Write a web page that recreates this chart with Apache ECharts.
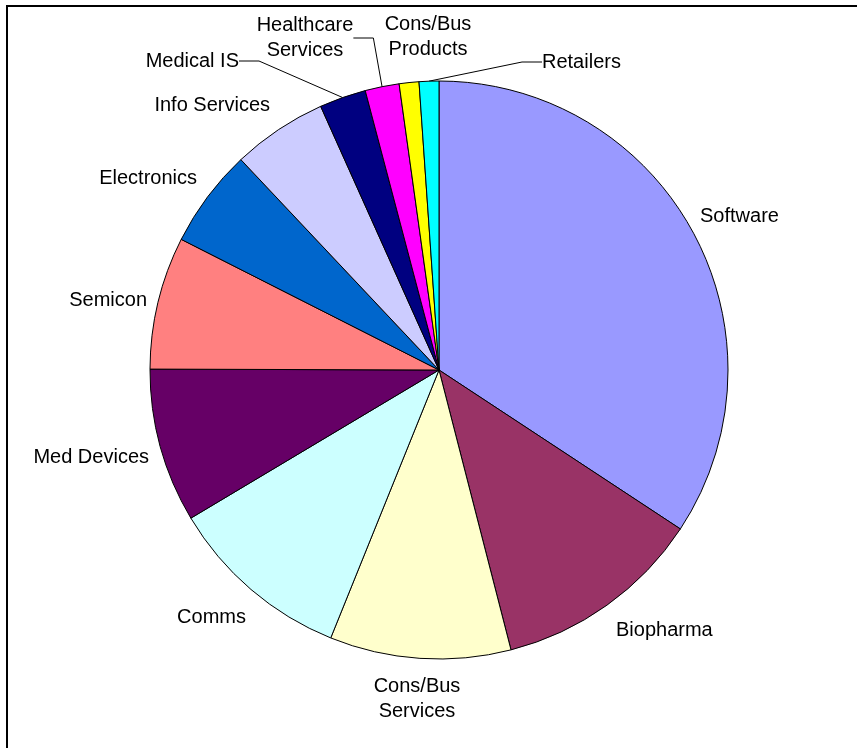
<!DOCTYPE html>
<html>
<head>
<meta charset="utf-8">
<script src="https://cdn.jsdelivr.net/npm/echarts@6/dist/echarts.min.js"></script>
<style>
  html, body { margin: 0; padding: 0; background: #fff; }
  #chart { width: 857px; height: 748px; }
</style>
</head>
<body>
<div id="chart"></div>
<script>
// sectors, clockwise from 12 o'clock
var categories = ['Software', 'Biopharma', 'Cons/Bus\nServices', 'Comms', 'Med Devices', 'Semicon',
    'Electronics', 'Info Services', 'Medical IS', 'Healthcare\nServices', 'Cons/Bus\nProducts', 'Retailers'];
var shares = [34.2, 11.7, 10.1, 10.3, 8.6, 7.4, 5.5, 5.3, 2.6, 1.9, 1.1, 1.1];
var colors = ['#9999FF', '#993366', '#FFFFCC', '#CCFFFF', '#660066', '#FF8080',
    '#0066CC', '#CCCCFF', '#000080', '#FF00FF', '#FFFF00', '#00FFFF'];
// only the thin slices get a leader line
var withLeader = ['Medical IS', 'Healthcare\nServices', 'Retailers'];

// where each label sits (anchor x, middle y, alignment)
var labelSpots = [
    [700, 216, 'left'], [616, 630, 'left'], [417, 699, 'center'], [246, 617, 'right'],
    [149, 457, 'right'], [147, 300, 'right'], [197, 178, 'right'], [270, 105, 'right'],
    [239, 61, 'right'], [305, 38, 'center'], [428, 37, 'center'], [542, 62, 'left']
];

var chart = echarts.init(document.getElementById('chart'));

var pieData = categories.map(function (name, i) {
    return {
        name: name,
        value: shares[i],
        itemStyle: { color: colors[i] },
        labelLine: { show: withLeader.indexOf(name) >= 0 }
    };
});

chart.setOption({
    animation: false,
    backgroundColor: '#fff',
    textStyle: { fontFamily: '"Liberation Sans", Arial, sans-serif' },
    graphic: [{
        type: 'rect',
        shape: { x: 7, y: 6, width: 1000, height: 1000 },
        style: { fill: null, stroke: '#000', lineWidth: 2 },
        silent: true
    }],
    series: [{
        type: 'pie',
        center: [439, 370],
        radius: 289,
        startAngle: 90,
        clockwise: true,
        avoidLabelOverlap: false,
        data: pieData,
        itemStyle: { borderColor: '#000', borderWidth: 1 },
        label: {
            show: true,
            position: 'outside',
            color: '#000',
            fontSize: 20,
            lineHeight: 25,
            fontFamily: '"Liberation Sans", Arial, sans-serif'
        },
        labelLine: {
            show: false,
            length: 10,
            length2: 20,
            smooth: false,
            lineStyle: { color: '#000', width: 1 }
        },
        labelLayout: function (params) {
            var s = labelSpots[params.dataIndex];
            return { x: s[0], y: s[1], align: s[2], verticalAlign: 'middle' };
        },
        emphasis: { disabled: true }
    }]
});
</script>
</body>
</html>
